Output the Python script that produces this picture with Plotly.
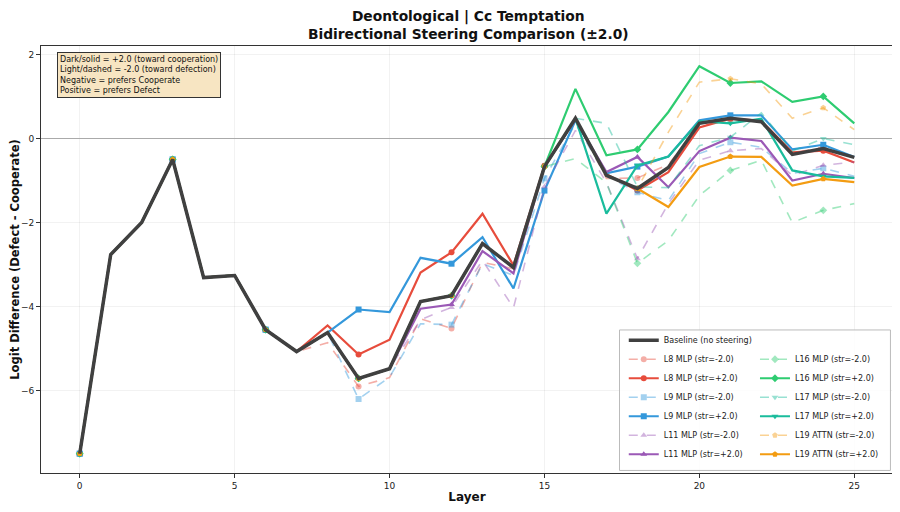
import plotly.graph_objects as go

layers = list(range(26))
baseline = [-7.5, -2.76, -2.0, -0.5, -3.31, -3.26, -4.55, -5.07, -4.62, -5.71,
            -5.48, -3.88, -3.74, -2.5, -3.07, -0.67, 0.48, -0.88, -1.19, -0.69,
            0.36, 0.48, 0.40, -0.38, -0.24, -0.45]

# values from the steered layer onward (earlier layers equal the baseline)
l8_pos = [-4.45, -5.14, -4.79, -3.19, -2.71, -1.79, -3.02, -0.65, 0.45, -0.85,
          -1.24, -0.80, 0.26, 0.47, 0.42, -0.33, -0.29, -0.57]
l8_neg = [-4.86, -5.90, -5.69, -4.29, -4.52, -2.95, -3.10, -0.65, 0.45, -0.95,
          -0.94, -0.62, 0.30, 0.45, 0.38, -0.35, -0.20, -0.45]
l9_pos = [-4.07, -4.13, -2.84, -2.98, -2.35, -3.57, -1.24, 0.43, -0.83, -0.67,
          -0.43, 0.43, 0.55, 0.55, -0.26, -0.15, -0.44]
l9_neg = [-6.20, -5.68, -4.41, -4.43, -2.98, -3.26, -0.95, 0.35, -0.90, -1.28,
          -1.48, -0.36, -0.09, -0.21, -0.83, -0.71, -0.90]
l11_pos = [-4.05, -3.95, -2.68, -3.21, -0.67, 0.45, -0.80, -0.44, -1.16, -0.30,
           0.02, -0.06, -1.00, -0.84, -0.94]
l11_neg = [-4.31, -4.02, -2.90, -4.03, -1.15, 0.19, -1.05, -2.86, -1.55, -0.52,
           -0.29, -0.24, -0.88, -0.64, -0.56]
l16_pos = [1.18, -0.40, -0.26, 0.63, 1.72, 1.32, 1.36, 0.87, 1.00, 0.36]
l16_neg = [-0.48, -1.05, -2.97, -2.43, -1.36, -0.76, -0.52, -2.00, -1.71, -1.55]
l17_pos = [-1.79, -0.64, -0.43, 0.41, 0.36, 0.47, -0.76, -0.90, -0.94]
l17_neg = [0.36, -1.15, -1.17, -0.17, 0.03, 0.61, -0.30, 0.00, -0.15]
l19_pos = [-1.63, -0.68, -0.43, -0.44, -1.12, -0.96, -1.04]
l19_neg = [0.15, 1.34, 1.42, 1.30, 0.48, 0.73, 0.21]

# (label, start layer, +2 values, -2 values, rgb, marker symbol)
series = [
    ("L8 MLP", 8, l8_pos, l8_neg, (231, 76, 60), "circle"),
    ("L9 MLP", 9, l9_pos, l9_neg, (52, 152, 219), "square"),
    ("L11 MLP", 11, l11_pos, l11_neg, (155, 89, 182), "triangle-up"),
    ("L16 MLP", 16, l16_pos, l16_neg, (46, 204, 113), "diamond"),
    ("L17 MLP", 17, l17_pos, l17_neg, (26, 188, 156), "triangle-down"),
    ("L19 ATTN", 19, l19_pos, l19_neg, (243, 156, 18), "pentagon"),
]

fig = go.Figure()
legend_entries = []
for name, start, pos, neg, rgb, sym in series:
    for strength, vals in (("-2.0", neg), ("+2.0", pos)):
        y = baseline[:start] + vals
        if strength == "+2.0":
            col = "rgb(%d,%d,%d)" % rgb
            dash, width, msize = "solid", 2.2, 6
        else:
            col = "rgba(%d,%d,%d,0.45)" % rgb
            dash, width, msize = "dash", 1.6, 6
        fig.add_trace(go.Scatter(x=layers, y=y, mode="lines", showlegend=False,
                                 line=dict(color=col, width=width, dash=dash),
                                 hoverinfo="skip"))
        fig.add_trace(go.Scatter(x=layers[::3], y=y[::3], mode="markers", showlegend=False,
                                 marker=dict(symbol=sym, size=msize, color=col,
                                             line=dict(width=0)),
                                 hoverinfo="skip"))
        legend_entries.append(("%s (str=%s)" % (name, strength), col, dash, width, sym, msize))

fig.add_trace(go.Scatter(x=layers, y=baseline, mode="lines", showlegend=False,
                         line=dict(color="#404040", width=3.5), hoverinfo="skip"))

# legend entries (two columns)
fig.add_trace(go.Scatter(x=[None], y=[None], mode="lines", name="Baseline (no steering)",
                         line=dict(color="#404040", width=3.5), legend="legend"))
for i, (label, col, dash, width, sym, msize) in enumerate(legend_entries):
    fig.add_trace(go.Scatter(x=[None], y=[None], mode="lines+markers", name=label,
                             line=dict(color=col, width=width, dash=dash),
                             marker=dict(symbol=sym, size=msize, color=col),
                             legend="legend" if i < 6 else "legend2"))

axis_common = dict(showline=True, linecolor="#333333", linewidth=1, mirror=True,
                   ticks="outside", ticklen=4, tickcolor="#333333", automargin=False,
                   gridcolor="rgba(0,0,0,0.05)", tickfont=dict(size=9, color="#222"))

# the page adds an 8px body margin, so the figure is sized to fill the rest of the window
fig.update_layout(
    width=892, height=504,
    margin=dict(l=33, r=7, t=38, b=39),
    paper_bgcolor="white", plot_bgcolor="white",
    font=dict(family="DejaVu Sans", color="#111"),
    title=dict(text="<b>Deontological | Cc Temptation<br>Bidirectional Steering Comparison (±2.0)</b>",
               x=0.516, xanchor="center", y=0.975, yanchor="middle",
               font=dict(size=13.8, color="#111")),
    xaxis=dict(range=[-1.25, 26.25], tickvals=[0, 5, 10, 15, 20, 25],
               title=dict(text="<b>Layer</b>", font=dict(size=12), standoff=2),
               zeroline=False, **axis_common),
    yaxis=dict(range=[-7.96, 2.2], tickvals=[-6, -4, -2, 0, 2],
               title=dict(text="<b>Logit Difference (Defect - Cooperate)</b>", font=dict(size=11.5), standoff=2),
               zeroline=True, zerolinecolor="#aaaaaa", zerolinewidth=1, **axis_common),
    legend=dict(x=0.684, y=0.01, xanchor="left", yanchor="bottom",
                bgcolor="rgba(0,0,0,0)", borderwidth=0, itemwidth=30,
                font=dict(size=8, color="#222"), tracegroupgap=0),
    legend2=dict(x=0.838, y=0.01, xanchor="left", yanchor="bottom",
                 bgcolor="rgba(0,0,0,0)", borderwidth=0, itemwidth=30,
                 font=dict(size=8, color="#222"), tracegroupgap=0),
    shapes=[dict(type="rect", xref="paper", yref="paper", x0=0.679, x1=0.997,
                 y0=0.006, y1=0.335, layer="above",
                 fillcolor="rgba(255,255,255,0.85)", line=dict(color="#bbbbbb", width=1))],
    annotations=[dict(xref="paper", yref="paper", x=0.019, y=0.985, xanchor="left", yanchor="top",
                      align="left", showarrow=False,
                      text="Dark/solid = +2.0 (toward cooperation)<br>Light/dashed = -2.0 (toward defection)"
                           "<br>Negative = prefers Cooperate<br>Positive = prefers Defect",
                      font=dict(size=8, color="#111"), bgcolor="rgba(245,222,179,0.8)",
                      bordercolor="#333333", borderwidth=1, borderpad=2)],
)

fig.write_html("out.html")
